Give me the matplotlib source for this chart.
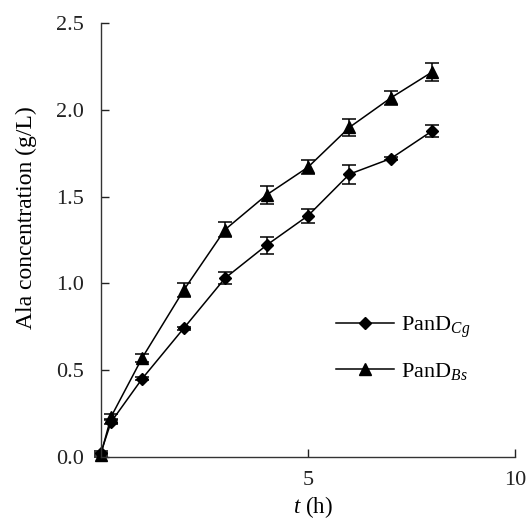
import matplotlib
matplotlib.use("Agg")
import matplotlib.pyplot as plt

plt.rcParams['font.family'] = ['Liberation Serif', 'DejaVu Serif']
plt.rcParams['mathtext.fontset'] = 'custom'
plt.rcParams['mathtext.rm'] = 'Liberation Serif'
plt.rcParams['mathtext.it'] = 'Liberation Serif:italic'

time_h = [0, 0.25, 1, 2, 3, 4, 5, 6, 7, 8]
cg_vals = [0.02, 0.20, 0.45, 0.74, 1.03, 1.22, 1.39, 1.63, 1.72, 1.88]
cg_err = [0.01, 0.01, 0.01, 0.01, 0.035, 0.05, 0.04, 0.055, 0.01, 0.035]
bs_vals = [0.01, 0.23, 0.57, 0.96, 1.31, 1.51, 1.67, 1.90, 2.07, 2.22]
bs_err = [0.01, 0.015, 0.025, 0.04, 0.045, 0.05, 0.04, 0.05, 0.04, 0.05]
labels = [r'PanD$_{\mathit{Cg}}$', r'PanD$_{\mathit{Bs}}$']

fig = plt.figure(figsize=(5.31, 5.19), dpi=100)
ax = fig.add_axes([100.7/531, 1 - 456.7/519, (515.3-100.7)/531, (456.7-23.3)/519])

c1 = ax.errorbar(time_h, cg_vals, yerr=cg_err, color='black', marker='D', ms=6,
                 lw=1.1, capsize=5, elinewidth=1.1, capthick=1.1, clip_on=False)
c2 = ax.errorbar(time_h, bs_vals, yerr=bs_err, color='black', marker='^', ms=9,
                 lw=1.1, capsize=5, elinewidth=1.1, capthick=1.1, clip_on=False)
for c in (c1, c2):
    for art in c.lines[1] + c.lines[2]:
        art.set_clip_on(False)

ax.set_xlim(0, 10)
ax.set_ylim(0, 2.5)
ax.set_xticks([5, 10])
ax.set_yticks([0, 0.5, 1.0, 1.5, 2.0, 2.5])
ax.set_yticklabels(['0.0', '0.5', '1.0', '1.5', '2.0', '2.5'])
for s in ['top', 'right']:
    ax.spines[s].set_visible(False)
for s in ['left', 'bottom']:
    ax.spines[s].set_linewidth(1.0)
    ax.spines[s].set_color('#333333')
ax.tick_params(axis='both', direction='in', length=6, width=1.0, labelsize=16, colors='#222222')
ax.tick_params(axis='y', pad=12)
ax.tick_params(axis='x', pad=10)

ax.set_xlabel(r'$\mathit{t}$ (h)', fontsize=16.5)
ax.xaxis.set_label_coords((313 - 100.7) / 414.6, (456.7 - 494) / 433.4)
ax.set_ylabel('Ala concentration (g/L)', fontsize=17)
ax.yaxis.set_label_coords((37 - 100.7) / 414.6, (456.7 - 218) / 433.4)

leg = ax.legend([c1.lines[0], c2.lines[0]], labels, loc='upper left',
                bbox_to_anchor=(0.52, 0.374), frameon=False,
                fontsize=16, handlelength=2.6, labelspacing=0.95, handletextpad=0.3,
                numpoints=1)

fig.savefig('out.png', dpi=100, facecolor='white')
